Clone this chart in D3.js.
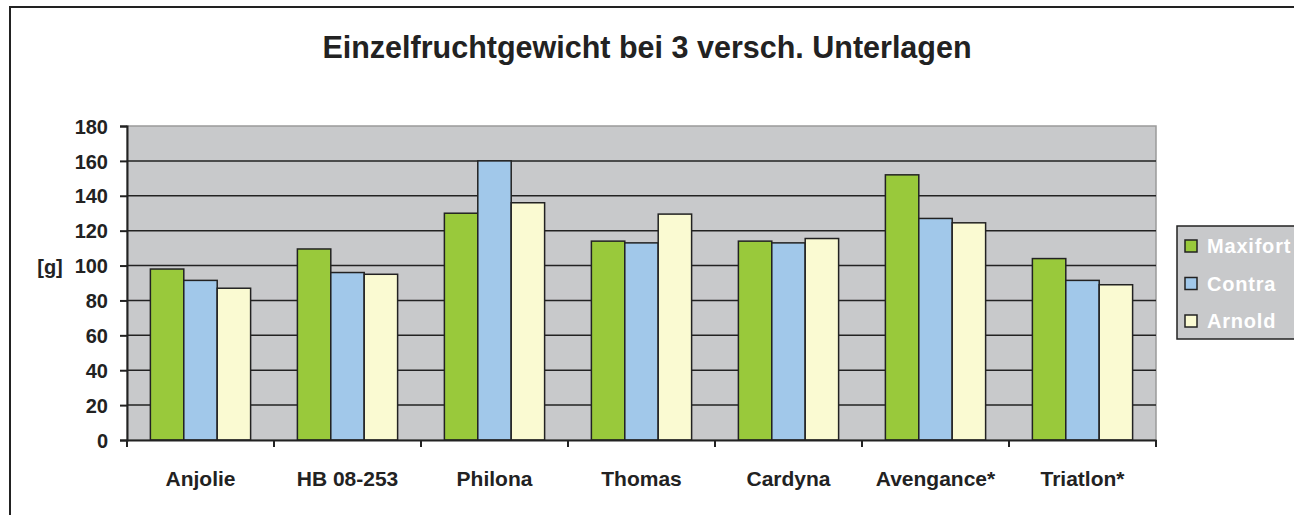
<!DOCTYPE html>
<html>
<head>
<meta charset="utf-8">
<script src="https://cdn.jsdelivr.net/npm/d3@7"></script>
<style>
html,body{margin:0;padding:0;background:#fff;}
svg{display:block;font-family:Arial,"Liberation Sans",sans-serif;}
</style>
</head>
<body>
<svg id="chart" width="1294" height="515"></svg>
<script>
const categories = ["Anjolie","HB 08-253","Philona","Thomas","Cardyna","Avengance*","Triatlon*"];
const seriesNames = ["Maxifort","Contra","Arnold"];
const maxifort = [98, 109.5, 130, 114, 114, 152, 104];
const contra   = [91.5, 96, 160, 113, 113, 127, 91.5];
const arnold   = [87, 95, 136, 129.5, 115.5, 124.5, 89];
const yTicks = [0,20,40,60,80,100,120,140,160,180];
const colors = ["#99c93b","#a1c8ea","#fafad2"];
const title = "Einzelfruchtgewicht bei 3 versch. Unterlagen";
const yLabel = "[g]";

(function(){
const seriesValues = [maxifort, contra, arnold];
const svg = d3.select("#chart");

// outer frame
svg.append("rect").attr("x",10).attr("y",7).attr("width",1300).attr("height",520)
  .attr("fill","#fff").attr("stroke","#222").attr("stroke-width",2);

const pL = 127, pR = 1156, pT = 126, pB = 440;
const x0 = d3.scaleBand().domain(categories).range([pL,pR]).paddingInner(0).paddingOuter(0);
const bw = x0.bandwidth();
const barW = bw/4.4;
const x1 = d3.scaleBand().domain(seriesNames).range([(bw-3*barW)/2,(bw+3*barW)/2]).padding(0);
const y = d3.scaleLinear().domain([0,180]).range([pB,pT]);

// plot background
svg.append("rect").attr("x",pL).attr("y",pT).attr("width",pR-pL).attr("height",pB-pT)
  .attr("fill","#c8c9cb").attr("stroke","#9a9a9a").attr("stroke-width",1.5);

// gridlines
svg.append("g").selectAll("line").data(yTicks.filter(d=>d>0 && d<180)).join("line")
  .attr("x1",pL).attr("x2",pR).attr("y1",d=>y(d)).attr("y2",d=>y(d))
  .attr("stroke","#222").attr("stroke-width",1.5);

// bars
const groups = svg.append("g").selectAll("g").data(categories).join("g")
  .attr("transform",c=>`translate(${x0(c)},0)`);
groups.selectAll("rect").data((c,i)=>seriesNames.map((s,j)=>({s,j,v:seriesValues[j][i]}))).join("rect")
  .attr("x",d=>x1(d.s)).attr("width",x1.bandwidth())
  .attr("y",d=>y(d.v)).attr("height",d=>y(0)-y(d.v))
  .attr("fill",d=>colors[d.j]).attr("stroke","#222").attr("stroke-width",1.5);

// y axis
const yAxis = svg.append("g").attr("transform",`translate(${pL},0)`)
  .call(d3.axisLeft(y).tickValues(yTicks).tickSize(7).tickPadding(12));
yAxis.select(".domain").attr("stroke","#222").attr("stroke-width",2);
yAxis.selectAll(".tick line").attr("stroke","#222").attr("stroke-width",2);
yAxis.selectAll(".tick text").attr("fill","#222").style("font-size","20px").style("font-weight","bold")
  .attr("dy","0.36em");

// x axis
const xAxis = svg.append("g").attr("transform",`translate(0,${pB})`)
  .call(d3.axisBottom(x0).tickSize(0).tickPadding(31));
xAxis.select(".domain").attr("stroke","#222").attr("stroke-width",2);
xAxis.selectAll(".tick text").attr("fill","#222").style("font-size","21px").style("font-weight","bold");
const bounds = categories.map(c=>x0(c)).concat([pR]);
xAxis.append("g").selectAll("line").data(bounds).join("line")
  .attr("x1",d=>d).attr("x2",d=>d).attr("y1",0).attr("y2",7)
  .attr("stroke","#222").attr("stroke-width",2);

// title
svg.append("text").attr("x",647).attr("y",58).attr("text-anchor","middle")
  .style("font-size","30.5px").style("font-weight","bold").attr("fill","#222").text(title);

// y label
svg.append("text").attr("x",50).attr("y",274).attr("text-anchor","middle")
  .style("font-size","20px").style("font-weight","bold").attr("fill","#222").text(yLabel);

// legend
const lg = svg.append("g");
lg.append("rect").attr("x",1177).attr("y",226).attr("width",140).attr("height",113)
  .attr("fill","#c8c9cb").attr("stroke","#222").attr("stroke-width",1.5);
const items = lg.selectAll("g").data(seriesNames).join("g")
  .attr("transform",(d,i)=>`translate(1185,${240+i*37.5})`);
items.append("rect").attr("width",12).attr("height",12)
  .attr("fill",(d,i)=>colors[i]).attr("stroke","#222").attr("stroke-width",1.5);
items.append("text").attr("x",22).attr("y",13).text(d=>d)
  .style("font-size","20px").style("font-weight","bold").style("letter-spacing","0.8px").attr("fill","#fff");
})();
</script>
</body>
</html>
